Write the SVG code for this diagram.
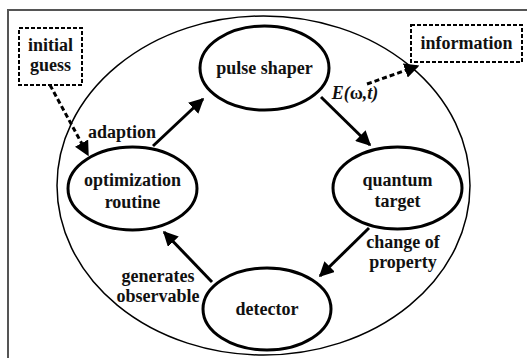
<svg xmlns="http://www.w3.org/2000/svg" width="527" height="358" viewBox="0 0 527 358">
<defs>
<style>
text{font-family:"Liberation Serif","Times New Roman",serif;font-weight:bold;font-size:18px;fill:#111;text-anchor:middle}
.node{fill:none;stroke:#000;stroke-width:3}
.box{fill:#fff;stroke:#000;stroke-width:2;stroke-dasharray:4 2}
.conn{stroke:#000;stroke-width:3;fill:none}
.dash{stroke:#000;stroke-width:3;fill:none;stroke-dasharray:5 3}
</style>
<marker id="ah" viewBox="0 0 10 10" refX="9" refY="5" markerWidth="5" markerHeight="5" orient="auto" markerUnits="strokeWidth">
<path d="M0,0 L10,5 L0,10 z" fill="#000"/>
</marker>
</defs>
<rect width="527" height="358" fill="#fff"/>
<path d="M8,358 V10 H527" fill="none" stroke="#555" stroke-width="2"/>
<ellipse id="outer" cx="263.5" cy="185.5" rx="206.5" ry="169.5" fill="none" stroke="#000" stroke-width="1.5"/>
<g id="connectors">
<line class="dash" x1="50" y1="85" x2="88" y2="155" marker-end="url(#ah)"/>
<line class="conn" x1="153" y1="146" x2="203" y2="99" marker-end="url(#ah)"/>
<line class="conn" x1="321" y1="97" x2="370" y2="145" marker-end="url(#ah)"/>
<line class="dash" x1="367" y1="84" x2="418" y2="66" marker-end="url(#ah)"/>
<line class="conn" x1="369" y1="228" x2="320" y2="276" marker-end="url(#ah)"/>
<line class="conn" x1="212" y1="282" x2="164" y2="232" marker-end="url(#ah)"/>
</g>
<g id="initial-guess">
<rect class="box" x="19" y="28" width="63" height="57"/>
<text x="50.5" y="51">initial</text>
<text x="50.5" y="71">guess</text>
</g>
<g id="information">
<rect class="box" x="411" y="25" width="111" height="37"/>
<text x="466.5" y="49">information</text>
</g>
<g id="pulse-shaper">
<ellipse class="node" cx="264.5" cy="68" rx="64.5" ry="42"/>
<text x="264.5" y="74">pulse shaper</text>
</g>
<g id="optimization-routine">
<ellipse class="node" cx="132.5" cy="188.5" rx="64.5" ry="41.5"/>
<text x="132.5" y="186">optimization</text>
<text x="132.5" y="208">routine</text>
</g>
<g id="quantum-target">
<ellipse class="node" cx="397.5" cy="188" rx="64.5" ry="41"/>
<text x="397.5" y="186">quantum</text>
<text x="397.5" y="207">target</text>
</g>
<g id="detector">
<ellipse class="node" cx="267" cy="309" rx="64" ry="41"/>
<text x="267" y="315">detector</text>
</g>
<g id="labels">
<text x="122" y="138">adaption</text>
<text x="355" y="99" font-style="italic">E(<tspan font-style="normal">ω</tspan>,t)</text>
<text x="403" y="248">change of</text>
<text x="403" y="268">property</text>
<text x="158" y="282">generates</text>
<text x="158" y="302">observable</text>
</g>
</svg>
